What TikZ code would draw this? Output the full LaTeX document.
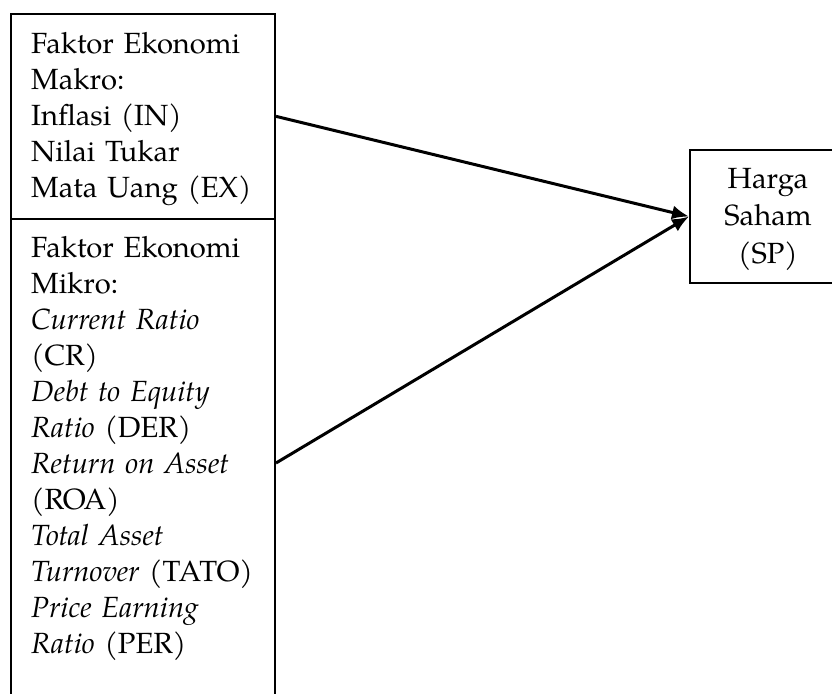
\documentclass[tikz,border=0pt]{standalone}
\usepackage{fontspec}
\setmainfont{TeX Gyre Pagella}
\usetikzlibrary{arrows.meta}
\begin{document}
\begin{tikzpicture}[x=1pt,y=-1pt,
  boxnode/.style={draw, line width=2pt, inner sep=0pt, anchor=north west},
  txt/.style={inner sep=0pt, anchor=north west, text width=240pt, align=left, font=\fontsize{29.2}{36}\selectfont},
  conn/.style={line width=3pt, -{Latex[length=17pt,width=14pt]}}]
\clip (0,0) rectangle (832,693);
\node[boxnode, minimum width=264.5pt, minimum height=205.3pt] (makro) at (9.5,12.7) {};
\node[boxnode, minimum width=264.5pt, minimum height=488pt] (mikro) at (9.5,218) {};
\node[boxnode, minimum width=158pt, minimum height=133pt] (harga) at (689,149) {};
\node[txt] (makrotxt) at (31,27.8) {\strut Faktor Ekonomi\\ Makro:\\ Inflasi (IN)\\ Nilai Tukar\\ Mata Uang (EX)};
\node[txt] (mikrotxt) at (31,231.8) {\strut Faktor Ekonomi\\ Mikro:\\ \textit{Current Ratio}\\ (CR)\\ \textit{Debt to Equity}\\ \textit{Ratio} (DER)\\ \textit{Return on Asset}\\ (ROA)\\ \textit{Total Asset}\\ \textit{Turnover} (TATO)\\ \textit{Price Earning}\\ \textit{Ratio} (PER)};
\node[txt, anchor=north, text width=150pt, align=center, font=\fontsize{29.2}{37.5}\selectfont] (hargatxt) at (768,161.8) {\strut Harga\\ Saham\\ (SP)};
\draw[conn] (makro.east) -- (harga.west);
\draw[conn] (mikro.east) -- (harga.west);
\end{tikzpicture}
\end{document}
